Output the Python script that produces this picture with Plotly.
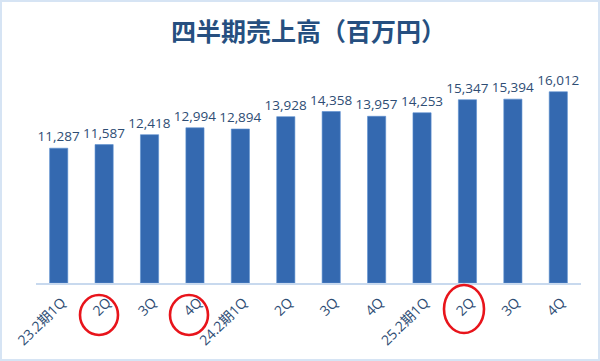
import plotly.graph_objects as go

categories = ["23.2期1Q", "2Q", "3Q", "4Q", "24.2期1Q", "2Q", "3Q", "4Q", "25.2期1Q", "2Q", "3Q", "4Q"]
sales = [11287, 11587, 12418, 12994, 12894, 13928, 14358, 13957, 14253, 15347, 15394, 16012]
circled = [1, 3, 9]

W, H = 600, 361
L, R, T, B = 36, 19, 68, 78
pw, ph = W - L - R, H - T - B

xs = list(range(len(categories)))

fig = go.Figure()
fig.add_trace(go.Bar(
    x=xs, y=sales,
    marker=dict(color="#3469b0", line=dict(color="#5a8fd0", width=0.6)),
    text=[f"{v:,}" for v in sales],
    textposition="outside",
    constraintext="none",
    textfont=dict(family="Open Sans, Noto Sans, sans-serif", size=13.5, color="#2e4d74"),
    cliponaxis=False,
    hoverinfo="skip",
))

shapes = []
# ellipses around selected tick labels (paper coords)
ell = {1: (99, 315, 19, 20), 3: (189, 315, 19, 20), 9: (464, 309, 20, 24)}
for i in circled:
    cx, cy, rx, ry = ell[i]
    shapes.append(dict(
        type="circle", xref="paper", yref="paper",
        x0=(cx - rx - L) / pw, x1=(cx + rx - L) / pw,
        y0=(H - B - (cy + ry)) / ph, y1=(H - B - (cy - ry)) / ph,
        line=dict(color="#e8141b", width=2.6),
    ))
# outer frame
shapes.append(dict(
    type="rect", xref="paper", yref="paper",
    x0=(1 - L) / pw, x1=(599 - L) / pw,
    y0=(H - B - 360) / ph, y1=(H - B - 1) / ph,
    line=dict(color="#d6e4f4", width=2),
))

fig.update_layout(
    width=W, height=H,
    margin=dict(l=L, r=R, t=T, b=B, autoexpand=False),
    paper_bgcolor="white", plot_bgcolor="white",
    showlegend=False,
    bargap=0.6,
    title=dict(
        text="<b>四半期売上高（百万円）</b>",
        x=0.5, xref="paper", xanchor="center",
        y=1 - 32 / H, yanchor="middle",
        font=dict(family="Noto Sans CJK JP", size=25, color="#264f80"),
    ),
    xaxis=dict(
        tickmode="array", tickvals=xs, ticktext=categories,
        range=[-0.5, len(categories) - 0.5],
        tickangle=-45, ticks="", automargin=False,
        ticklabelstandoff=4, ticklabelshift=3,
        showline=True, linecolor="#c8d9ee", linewidth=1.5,
        showgrid=False, zeroline=False,
        tickfont=dict(family="Open Sans, Noto Sans CJK JP, sans-serif", size=14, color="#2e4d74"),
    ),
    yaxis=dict(
        range=[0, 18000], visible=False, showgrid=False, zeroline=False, automargin=False,
    ),
    shapes=shapes,
)

fig.write_html(
    "out.html",
    config={"displayModeBar": False},
    post_script="document.body.style.margin='0';document.body.style.overflow='hidden';",
)
